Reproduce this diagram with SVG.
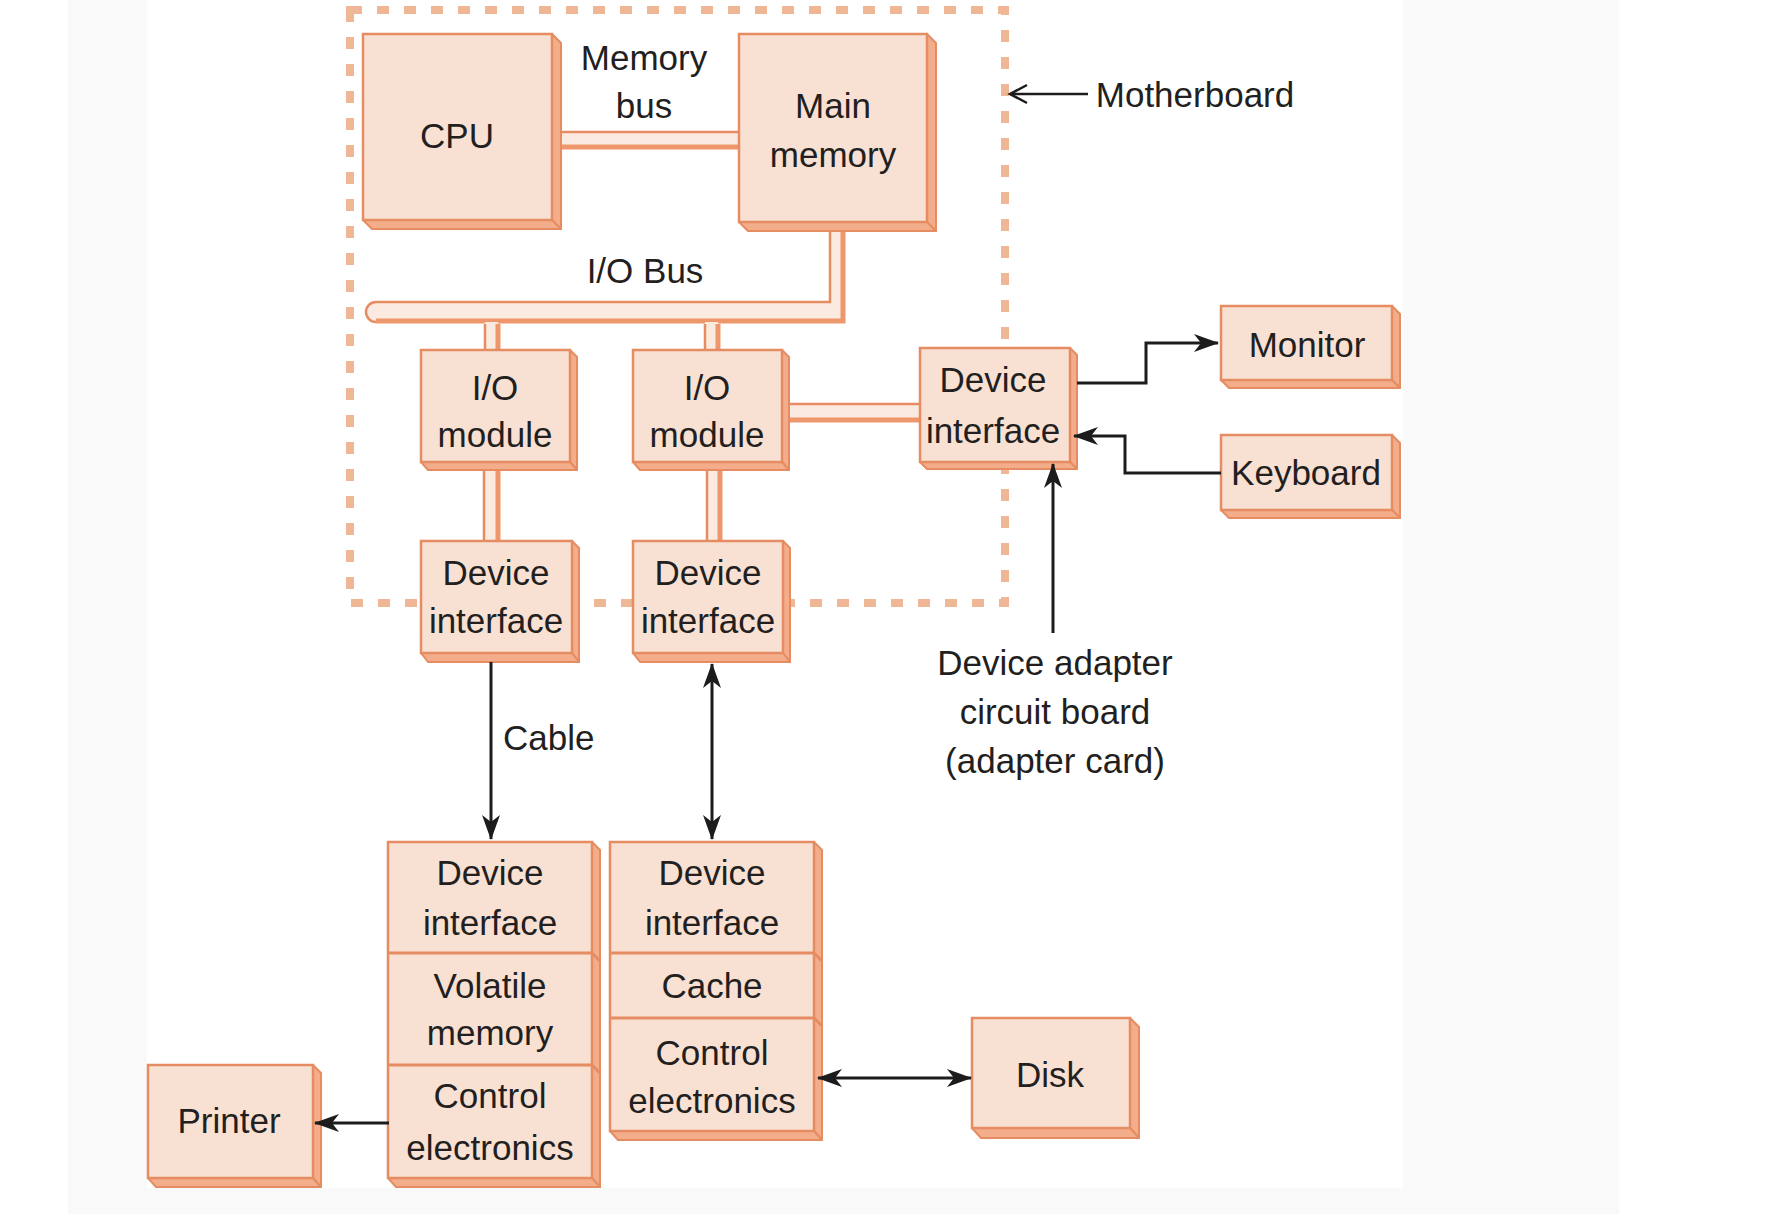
<svg xmlns="http://www.w3.org/2000/svg" width="1770" height="1214" viewBox="0 0 1770 1214">
<defs>
<style>
.front{fill:#f8e1d3;stroke:#e68c62;stroke-width:2.5}
.side{fill:#f3ad8a;stroke:#e68c62;stroke-width:2;stroke-linejoin:round}
.div{fill:none;stroke:#e68c62;stroke-width:3}
.t{font-family:"Liberation Sans",Arial,sans-serif;font-size:35px;fill:#231f20;text-anchor:middle}
.busfill{fill:#fbeadf;stroke:none}
.thin{fill:none;stroke:#e68c62;stroke-width:2.5}
.thick{fill:none;stroke:#ee976c;stroke-width:5}
.wire{fill:none;stroke:#1c1c1c;stroke-width:3}
.dash{fill:none;stroke:#efb795;stroke-width:8;stroke-dasharray:12 15}
</style>
<marker id="ah" markerUnits="userSpaceOnUse" markerWidth="26" markerHeight="20" viewBox="0 0 26 20" refX="24" refY="10" orient="auto-start-reverse">
<path d="M0,1 L25,10 L0,19 L7,10 Z" fill="#1c1c1c"/>
</marker>
<marker id="ah2" markerUnits="userSpaceOnUse" markerWidth="22" markerHeight="22" viewBox="0 0 22 22" refX="19" refY="11" orient="auto">
<path d="M2,2 L19,11 L2,20" fill="none" stroke="#1c1c1c" stroke-width="2.5"/>
</marker>
</defs>
<rect x="0" y="0" width="1770" height="1214" fill="#ffffff"/>
<rect x="68" y="0" width="1551" height="1214" fill="#f9f9f9"/>
<rect x="147" y="0" width="1256" height="1188" fill="#ffffff"/>

<g id="motherboard">
<rect class="dash" x="350" y="10" width="655" height="593"/>
</g>

<g id="buses">
<rect class="busfill" x="558" y="132" width="182" height="16"/>
<path class="thin" d="M558,132 H740"/>
<path class="thick" d="M558,147 H740"/>
<path class="busfill" d="M375,302 H830 V229 H843 V322 H375 A10,10 0 0 1 375,302 Z"/>
<path class="thin" d="M376,302 H830 V229"/>
<path class="thick" d="M843,229 V321 H376"/>
<path class="thin" d="M376,302 A10,10 0 0 0 376,322"/>
<rect class="busfill" x="485" y="322" width="13" height="30"/>
<path class="thin" d="M485,324 V352"/>
<path class="thick" d="M498,324 V352"/>
<rect class="busfill" x="705" y="322" width="13" height="30"/>
<path class="thin" d="M705,324 V352"/>
<path class="thick" d="M718,324 V352"/>
<rect class="busfill" x="484" y="468" width="14" height="75"/>
<path class="thin" d="M484,468 V543"/>
<path class="thick" d="M498,468 V543"/>
<rect class="busfill" x="707" y="468" width="13" height="75"/>
<path class="thin" d="M707,468 V543"/>
<path class="thick" d="M720,468 V543"/>
<rect class="busfill" x="786" y="404" width="136" height="17"/>
<path class="thin" d="M786,404 H922"/>
<path class="thick" d="M786,420 H922"/>
</g>

<g id="cpu">
<polygon class="side" points="552,34 561,43 561,229 552,220"/>
<polygon class="side" points="363,220 552,220 561,229 372,229"/>
<rect class="front" x="363" y="34" width="189" height="186"/>
<text class="t" x="457" y="148">CPU</text>
</g>

<g id="memory-bus-label">
<text class="t" x="644" y="70">Memory</text>
<text class="t" x="644" y="118">bus</text>
</g>

<g id="main-memory">
<polygon class="side" points="927,34 936,43 936,231 927,222"/>
<polygon class="side" points="739,222 927,222 936,231 748,231"/>
<rect class="front" x="739" y="34" width="188" height="188"/>
<text class="t" x="833" y="118">Main</text>
<text class="t" x="833" y="167">memory</text>
</g>

<g id="io-bus-label">
<text class="t" x="645" y="283">I/O Bus</text>
</g>

<g id="motherboard-label">
<text class="t" x="1195" y="107">Motherboard</text>
</g>

<g id="io-module-1">
<polygon class="side" points="570,350 577,357 577,470 570,462"/>
<polygon class="side" points="421,462 570,462 577,470 428,470"/>
<rect class="front" x="421" y="350" width="149" height="112"/>
<text class="t" x="495" y="400">I/O</text>
<text class="t" x="495" y="447">module</text>
</g>

<g id="io-module-2">
<polygon class="side" points="782,350 789,357 789,470 782,462"/>
<polygon class="side" points="633,462 782,462 789,470 640,470"/>
<rect class="front" x="633" y="350" width="149" height="112"/>
<text class="t" x="707" y="400">I/O</text>
<text class="t" x="707" y="447">module</text>
</g>

<g id="device-interface-1">
<polygon class="side" points="572,541 579,548 579,662 572,653"/>
<polygon class="side" points="421,653 572,653 579,662 428,662"/>
<rect class="front" x="421" y="541" width="151" height="112"/>
<text class="t" x="496" y="585">Device</text>
<text class="t" x="496" y="633">interface</text>
</g>

<g id="device-interface-2">
<polygon class="side" points="783,541 790,548 790,662 783,653"/>
<polygon class="side" points="633,653 783,653 790,662 640,662"/>
<rect class="front" x="633" y="541" width="150" height="112"/>
<text class="t" x="708" y="585">Device</text>
<text class="t" x="708" y="633">interface</text>
</g>

<g id="device-interface-3">
<polygon class="side" points="1070,348 1077,355 1077,469 1070,462"/>
<polygon class="side" points="920,462 1070,462 1077,469 927,469"/>
<rect class="front" x="920" y="348" width="150" height="114"/>
<text class="t" x="993" y="392">Device</text>
<text class="t" x="993" y="443">interface</text>
</g>

<g id="monitor">
<polygon class="side" points="1392,306 1400,314 1400,388 1392,380"/>
<polygon class="side" points="1221,380 1392,380 1400,388 1229,388"/>
<rect class="front" x="1221" y="306" width="171" height="74"/>
<text class="t" x="1307" y="357">Monitor</text>
</g>

<g id="keyboard">
<polygon class="side" points="1392,435 1400,443 1400,518 1392,510"/>
<polygon class="side" points="1221,510 1392,510 1400,518 1229,518"/>
<rect class="front" x="1221" y="435" width="171" height="75"/>
<text class="t" x="1306" y="485">Keyboard</text>
</g>

<g id="adapter-label">
<text class="t" x="1055" y="675">Device adapter</text>
<text class="t" x="1055" y="724">circuit board</text>
<text class="t" x="1055" y="773">(adapter card)</text>
</g>

<g id="cable-label">
<text class="t" x="503" y="750" style="text-anchor:start">Cable</text>
</g>

<g id="printer-controller">
<polygon class="side" points="592,842 600,850 600,1187 592,1178"/>
<polygon class="side" points="388,1178 592,1178 600,1187 396,1187"/>
<rect class="front" x="388" y="842" width="204" height="336"/>
<path class="div" d="M388,953 H592 L600,961 M388,1065 H592 L600,1073"/>
<text class="t" x="490" y="885">Device</text>
<text class="t" x="490" y="935">interface</text>
<text class="t" x="490" y="998">Volatile</text>
<text class="t" x="490" y="1045">memory</text>
<text class="t" x="490" y="1108">Control</text>
<text class="t" x="490" y="1160">electronics</text>
</g>

<g id="disk-controller">
<polygon class="side" points="814,842 822,850 822,1140 814,1131"/>
<polygon class="side" points="610,1131 814,1131 822,1140 618,1140"/>
<rect class="front" x="610" y="842" width="204" height="289"/>
<path class="div" d="M610,953 H814 L822,961 M610,1018 H814 L822,1026"/>
<text class="t" x="712" y="885">Device</text>
<text class="t" x="712" y="935">interface</text>
<text class="t" x="712" y="998">Cache</text>
<text class="t" x="712" y="1065">Control</text>
<text class="t" x="712" y="1113">electronics</text>
</g>

<g id="printer">
<polygon class="side" points="313,1065 321,1073 321,1187 313,1178"/>
<polygon class="side" points="148,1178 313,1178 321,1187 156,1187"/>
<rect class="front" x="148" y="1065" width="165" height="113"/>
<text class="t" x="229" y="1133">Printer</text>
</g>

<g id="disk">
<polygon class="side" points="1130,1018 1139,1027 1139,1138 1130,1128"/>
<polygon class="side" points="972,1128 1130,1128 1139,1138 981,1138"/>
<rect class="front" x="972" y="1018" width="158" height="110"/>
<text class="t" x="1050" y="1087">Disk</text>
</g>

<g id="connectors">
<path d="M1088,94 H1010" fill="none" stroke="#1c1c1c" stroke-width="2.5" marker-end="url(#ah2)"/>
<path class="wire" d="M1077,383 H1146 V343 H1218" marker-end="url(#ah)"/>
<path class="wire" d="M1221,473 H1125 V436 H1074" marker-end="url(#ah)"/>
<path class="wire" d="M1053,633 V464" marker-end="url(#ah)"/>
<path class="wire" d="M491,662 V839" marker-end="url(#ah)"/>
<path class="wire" d="M712,664 V839" marker-start="url(#ah)" marker-end="url(#ah)"/>
<path class="wire" d="M389,1123 H315" marker-end="url(#ah)"/>
<path class="wire" d="M818,1078 H971" marker-start="url(#ah)" marker-end="url(#ah)"/>
</g>
</svg>
